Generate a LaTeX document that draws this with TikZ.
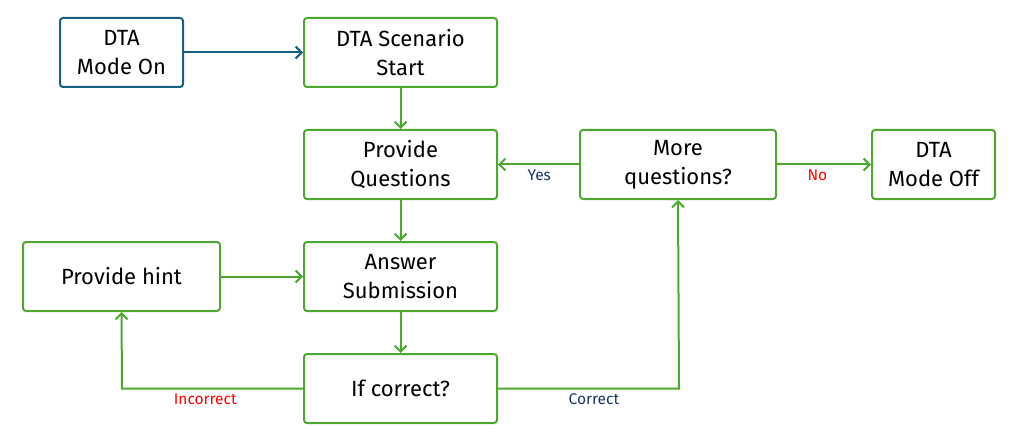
\documentclass[tikz,border=0pt]{standalone}
\usepackage{fontspec}
\setmainfont{Fira Sans}
\usetikzlibrary{arrows.meta}
\definecolor{boxblue}{RGB}{21,96,130}
\definecolor{boxgreen}{RGB}{78,167,46}
\definecolor{labnavy}{RGB}{22,50,110}
\definecolor{labred}{RGB}{255,0,0}
\begin{document}
\begin{tikzpicture}[x=1pt,y=-1pt,
  box/.style={draw=boxgreen,line width=2pt,rounded corners=3pt,inner sep=0pt,
    align=center,font=\fontsize{22}{29}\selectfont,text=black},
  conn/.style={draw=boxgreen,line width=2pt,-{Straight Barb[length=6pt,width=12pt,line width=2pt]}},
  lab/.style={font=\fontsize{15.5}{17}\selectfont}]
\useasboundingbox (0,0) rectangle (1015,441);
\node[box,draw=boxblue,minimum width=123pt,minimum height=69pt] (on) at (121.5,52.5) {DTA\\Mode On};
\node[box,minimum width=193pt,minimum height=69pt] (start) at (400.5,52.5) {DTA Scenario\\Start};
\node[box,minimum width=193pt,minimum height=69pt] (pq) at (400.5,164.5) {Provide\\Questions};
\node[box,minimum width=196pt,minimum height=69pt] (more) at (678,164.5) {More\\questions?};
\node[box,minimum width=123pt,minimum height=69pt] (off) at (933.5,164.5) {DTA\\Mode Off};
\node[box,minimum width=197pt,minimum height=69pt] (hint) at (121.5,276.5) {Provide hint};
\node[box,minimum width=193pt,minimum height=69pt] (ans) at (400.5,276.5) {Answer\\Submission};
\node[box,minimum width=193pt,minimum height=69pt] (ifc) at (400.5,388.5) {If correct?};
\draw[conn,draw=boxblue] (on) -- (start);
\draw[conn] (start) -- (pq);
\draw[conn] (more) -- node[lab,below,text=labnavy,pos=0.49,yshift=-1pt]{Yes} (pq);
\draw[conn] (more) -- node[lab,below,text=labred,pos=0.43,yshift=-1pt]{No} (off);
\draw[conn] (pq) -- (ans);
\draw[conn] (hint) -- (ans);
\draw[conn] (ans) -- (ifc);
\draw[conn] (ifc.west) -- node[lab,below,text=labred,pos=0.54,yshift=-1pt]{Incorrect} (122,388.5) -- (hint.south);
\draw[conn] (ifc.east) -- node[lab,below,text=labnavy,pos=0.53,yshift=-1pt]{Correct} (679,388.5) -- (more.south);
\end{tikzpicture}
\end{document}
